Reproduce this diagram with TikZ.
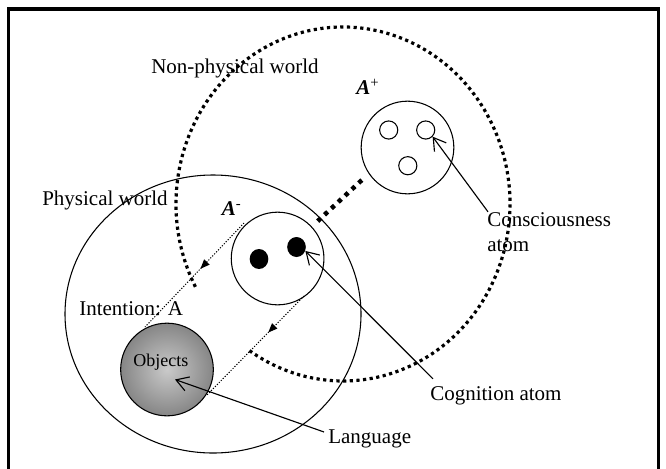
\documentclass[tikz,border=0pt]{standalone}
\usepackage{fontspec}
\setmainfont{Liberation Serif}
\usetikzlibrary{arrows.meta,shapes.geometric,decorations.markings}

\tikzset{
  ring/.style={circle, draw, line width=0.8pt, inner sep=0pt},
  txt/.style={anchor=base west, inner sep=0pt, font=\fontsize{15.75pt}{18pt}\selectfont},
  pointer/.style={line width=0.85pt, -{Straight Barb[length=9pt,width=11pt]}},
  thindots/.style={line width=0.75pt, dash pattern=on 0.9pt off 1.2pt},
  midtip/.style={postaction={decorate, decoration={markings,
      mark=at position #1 with {\arrow{Triangle[length=7pt,width=5.5pt]}}}}},
  bigdots/.style={line width=2.4pt, dash pattern=on 2.4pt off 2.6pt},
  linkdots/.style={line width=3.4pt, dash pattern=on 3.2pt off 3.8pt},
  frameline/.style={line width=2.3pt}
}

\begin{document}
\begin{tikzpicture}[x=0.75pt,y=-0.75pt]
\useasboundingbox (0,0) rectangle (666,468);

% outer frame
\draw[frameline] (8.3,475) -- (8.3,9) -- (658.5,9) -- (658.5,475);

% labels
\node[txt] (nonphys) at (151,73) {Non-physical world};
\node[txt] (physlab) at (42,205) {Physical world};
\node[txt] (intent)  at (79,315) {Intention: A};
\node[txt] (cons)    at (487,226) {Consciousness};
\node[txt] (consatom) at (487,251) {atom};
\node[txt] (cog)     at (430,400) {Cognition atom};
\node[txt] (lang)    at (328,443) {Language};
\node[txt] (aplab)   at (356,94) {\textbf{\textit{A}}\textsuperscript{+}};
\node[txt] (amlab)   at (221.5,215) {\textbf{\textit{A}}\textsuperscript{-}};

% physical world
\node[ellipse, draw, line width=0.8pt, inner sep=0pt,
      minimum width=222pt, minimum height=208.5pt] (phys) at (213,314) {};

% non-physical world, broken where the intention lines pass
\draw[bigdots] (343,204) ++(152.1:167 and 177)
  arc[start angle=152.1, end angle=484.8, x radius=167, y radius=177];

% atoms
\node[ring, minimum size=69.5pt] (aminus) at (277.6,258.5) {};
\node[ring, minimum size=69.5pt] (aplus)  at (407.5,147.5) {};
\node[ellipse, fill=black, inner sep=0pt, minimum width=14pt, minimum height=15pt] (dot1) at (259,259) {};
\node[ellipse, fill=black, inner sep=0pt, minimum width=14pt, minimum height=15pt] (dot2) at (296.5,247) {};
\node[ring, minimum size=13.6pt] (c1) at (388.7,130) {};
\node[ring, minimum size=13.6pt] (c2) at (425.7,130) {};
\node[ring, minimum size=13.6pt] (c3) at (407.8,165.7) {};

% objects
\node[ring, minimum size=69.5pt, shading=radial, inner color=gray!42, outer color=gray!95] (objects) at (167,369.5) {};
\node[anchor=base west, inner sep=0pt, font=\fontsize{13.5pt}{16pt}\selectfont] (objtxt) at (133,366.7) {Objects};

% link between the two atom groups
\draw[linkdots, shorten <=7pt, shorten >=3.5pt] (aplus.214) -- (aminus.43);

% intention lines
\coordinate (i1a) at (244,223);
\coordinate (i1b) at (145,327);
\coordinate (i2a) at (304,296);
\coordinate (i2b) at (207,395);
\draw[thindots, midtip=0.44] (i1a) -- (i1b);
\draw[thindots, midtip=0.37] (i2a) -- (i2b);

% pointers
\draw[pointer] ([shift={(1,0)}]cons.north west) -- (c2.-44);
\draw[pointer] ([shift={(3,-7)}]cog.north west) -- (dot2.-24);
\draw[pointer] ([shift={(-4,3)}]lang.north west) -- ([shift={(8,10)}]objects.center);
\end{tikzpicture}
\end{document}
